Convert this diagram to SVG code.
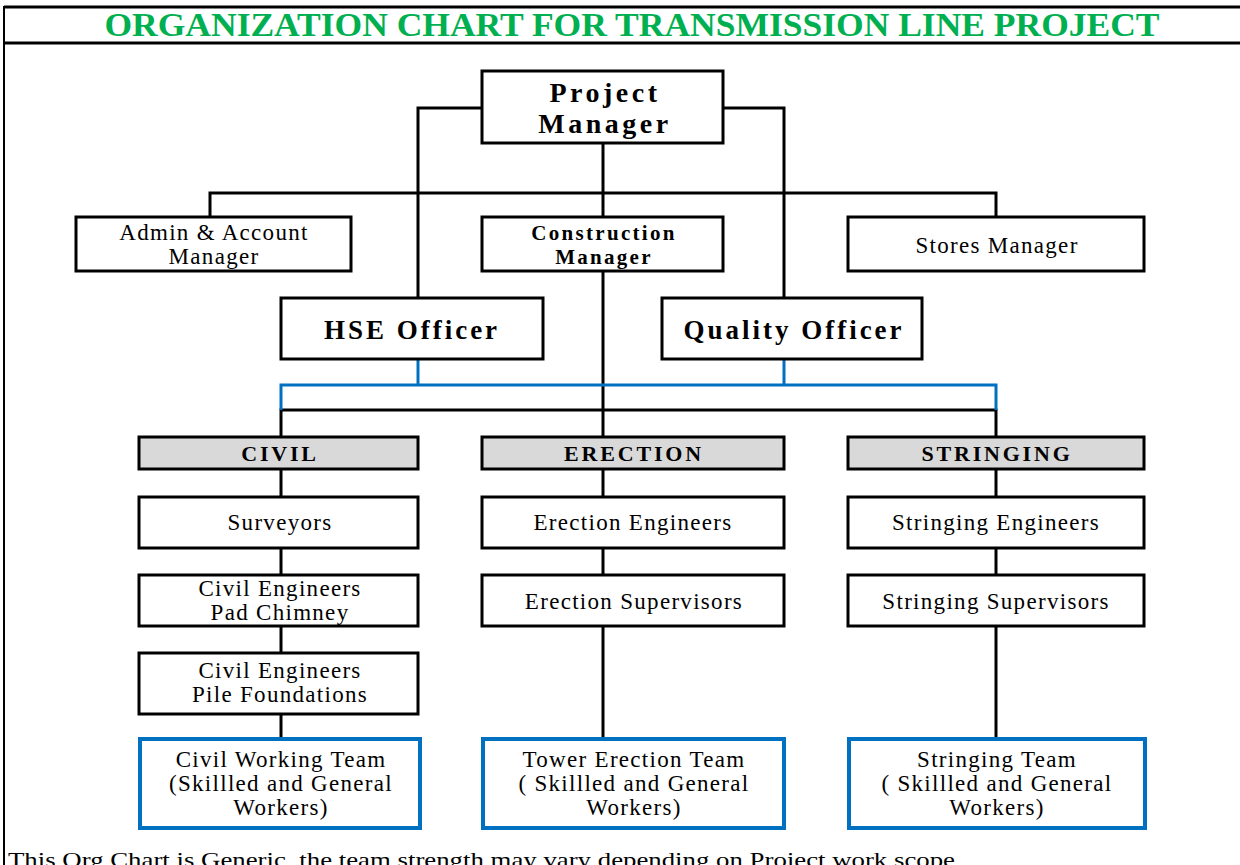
<svg xmlns="http://www.w3.org/2000/svg" width="1240" height="865" viewBox="0 0 1240 865">
<style>
.bg{fill:#fff}
.box{fill:#fff;stroke:#000;stroke-width:3}
.dept{fill:#d9d9d9;stroke:#000;stroke-width:3}
.team{fill:#fff;stroke:#0070c0;stroke-width:4}
.ln{fill:none;stroke:#000;stroke-width:3}
.bl{fill:none;stroke:#0070c0;stroke-width:3}
text{font-family:"Liberation Serif","Times New Roman",serif;fill:#000;text-anchor:middle}
.t{font-size:23px;letter-spacing:1.3px}
.b1{font-size:28px;font-weight:bold;letter-spacing:3.5px}
.b2{font-size:27px;font-weight:bold;letter-spacing:3px}
.b3{font-size:21px;font-weight:bold;letter-spacing:2.3px}
.d{font-size:22px;font-weight:bold;letter-spacing:2.8px}
.title{font-size:33px;font-weight:bold;fill:#00b050}
.foot{font-size:22px;text-anchor:start}
</style>
<rect class="bg" x="0" y="0" width="1240" height="865"/>
<g id="frame">
<line x1="4" y1="7" x2="1240" y2="7" stroke="#000" stroke-width="3"/>
<line x1="4" y1="43" x2="1240" y2="43" stroke="#000" stroke-width="3"/>
<line x1="4" y1="6" x2="4" y2="865" stroke="#000" stroke-width="2"/>
<text class="title" x="632" y="36" textLength="1055" lengthAdjust="spacingAndGlyphs">ORGANIZATION CHART FOR TRANSMISSION LINE PROJECT</text>
</g>
<g id="connectors">
<path class="ln" d="M482,108 H418 V298"/>
<path class="ln" d="M723,108 H784 V298"/>
<path class="ln" d="M603,143 V217"/>
<path class="ln" d="M210,217 V193 H996 V217"/>
<path class="ln" d="M603,271 V437"/>
<path class="ln" d="M281,437 V410 H996 V437"/>
<path class="bl" d="M418,359 V385"/>
<path class="bl" d="M784,359 V385"/>
<path class="bl" d="M281,410 V385 H996 V410"/>
<path class="ln" d="M281,469 V497 M281,548 V575 M281,626 V653 M281,714 V739"/>
<path class="ln" d="M603,469 V497 M603,548 V575 M603,626 V739"/>
<path class="ln" d="M996,469 V497 M996,548 V575 M996,626 V739"/>
</g>
<g id="project-manager">
<rect class="box" x="482" y="71" width="241" height="72"/>
<text class="b1" x="605" y="102">Project</text>
<text class="b1" x="605" y="133">Manager</text>
</g>
<g id="admin-manager">
<rect class="box" x="76" y="217" width="275" height="54"/>
<text class="t" x="214" y="240">Admin &amp; Account</text>
<text class="t" x="214" y="264">Manager</text>
</g>
<g id="construction-manager">
<rect class="box" x="482" y="217" width="241" height="54"/>
<text class="b3" x="604" y="240">Construction</text>
<text class="b3" x="604" y="264">Manager</text>
</g>
<g id="stores-manager">
<rect class="box" x="848" y="217" width="296" height="54"/>
<text class="t" x="997" y="253">Stores Manager</text>
</g>
<g id="hse-officer">
<rect class="box" x="281" y="298" width="262" height="61"/>
<text class="b2" x="412" y="339">HSE Officer</text>
</g>
<g id="quality-officer">
<rect class="box" x="662" y="298" width="260" height="61"/>
<text class="b2" x="794" y="339">Quality Officer</text>
</g>
<g id="civil">
<rect class="dept" x="139" y="437" width="279" height="32"/>
<text class="d" x="280" y="461">CIVIL</text>
</g>
<g id="erection">
<rect class="dept" x="482" y="437" width="302" height="32"/>
<text class="d" x="634" y="461">ERECTION</text>
</g>
<g id="stringing">
<rect class="dept" x="848" y="437" width="296" height="32"/>
<text class="d" x="997" y="461">STRINGING</text>
</g>
<g id="surveyors">
<rect class="box" x="139" y="497" width="279" height="51"/>
<text class="t" x="280" y="530">Surveyors</text>
</g>
<g id="erection-engineers">
<rect class="box" x="482" y="497" width="302" height="51"/>
<text class="t" x="633" y="530">Erection Engineers</text>
</g>
<g id="stringing-engineers">
<rect class="box" x="848" y="497" width="296" height="51"/>
<text class="t" x="996" y="530">Stringing Engineers</text>
</g>
<g id="civil-pad">
<rect class="box" x="139" y="575" width="279" height="51"/>
<text class="t" x="280" y="596">Civil Engineers</text>
<text class="t" x="280" y="620">Pad Chimney</text>
</g>
<g id="erection-supervisors">
<rect class="box" x="482" y="575" width="302" height="51"/>
<text class="t" x="634" y="609">Erection Supervisors</text>
</g>
<g id="stringing-supervisors">
<rect class="box" x="848" y="575" width="296" height="51"/>
<text class="t" x="996" y="609">Stringing Supervisors</text>
</g>
<g id="civil-pile">
<rect class="box" x="139" y="653" width="279" height="61"/>
<text class="t" x="280" y="678">Civil Engineers</text>
<text class="t" x="280" y="702">Pile Foundations</text>
</g>
<g id="civil-team">
<rect class="team" x="140" y="739" width="280" height="89"/>
<text class="t" x="281" y="767">Civil Working Team</text>
<text class="t" x="281" y="791">(Skillled and General</text>
<text class="t" x="281" y="815">Workers)</text>
</g>
<g id="erection-team">
<rect class="team" x="483" y="739" width="301" height="89"/>
<text class="t" x="634" y="767">Tower Erection Team</text>
<text class="t" x="634" y="791">( Skillled and General</text>
<text class="t" x="634" y="815">Workers)</text>
</g>
<g id="stringing-team">
<rect class="team" x="849" y="739" width="296" height="89"/>
<text class="t" x="997" y="767">Stringing Team</text>
<text class="t" x="997" y="791">( Skillled and General</text>
<text class="t" x="997" y="815">Workers)</text>
</g>
<g id="footer">
<text class="foot" x="8" y="867" textLength="947" lengthAdjust="spacingAndGlyphs">This Org Chart is Generic, the team strength may vary depending on Project work scope</text>
</g>
</svg>
